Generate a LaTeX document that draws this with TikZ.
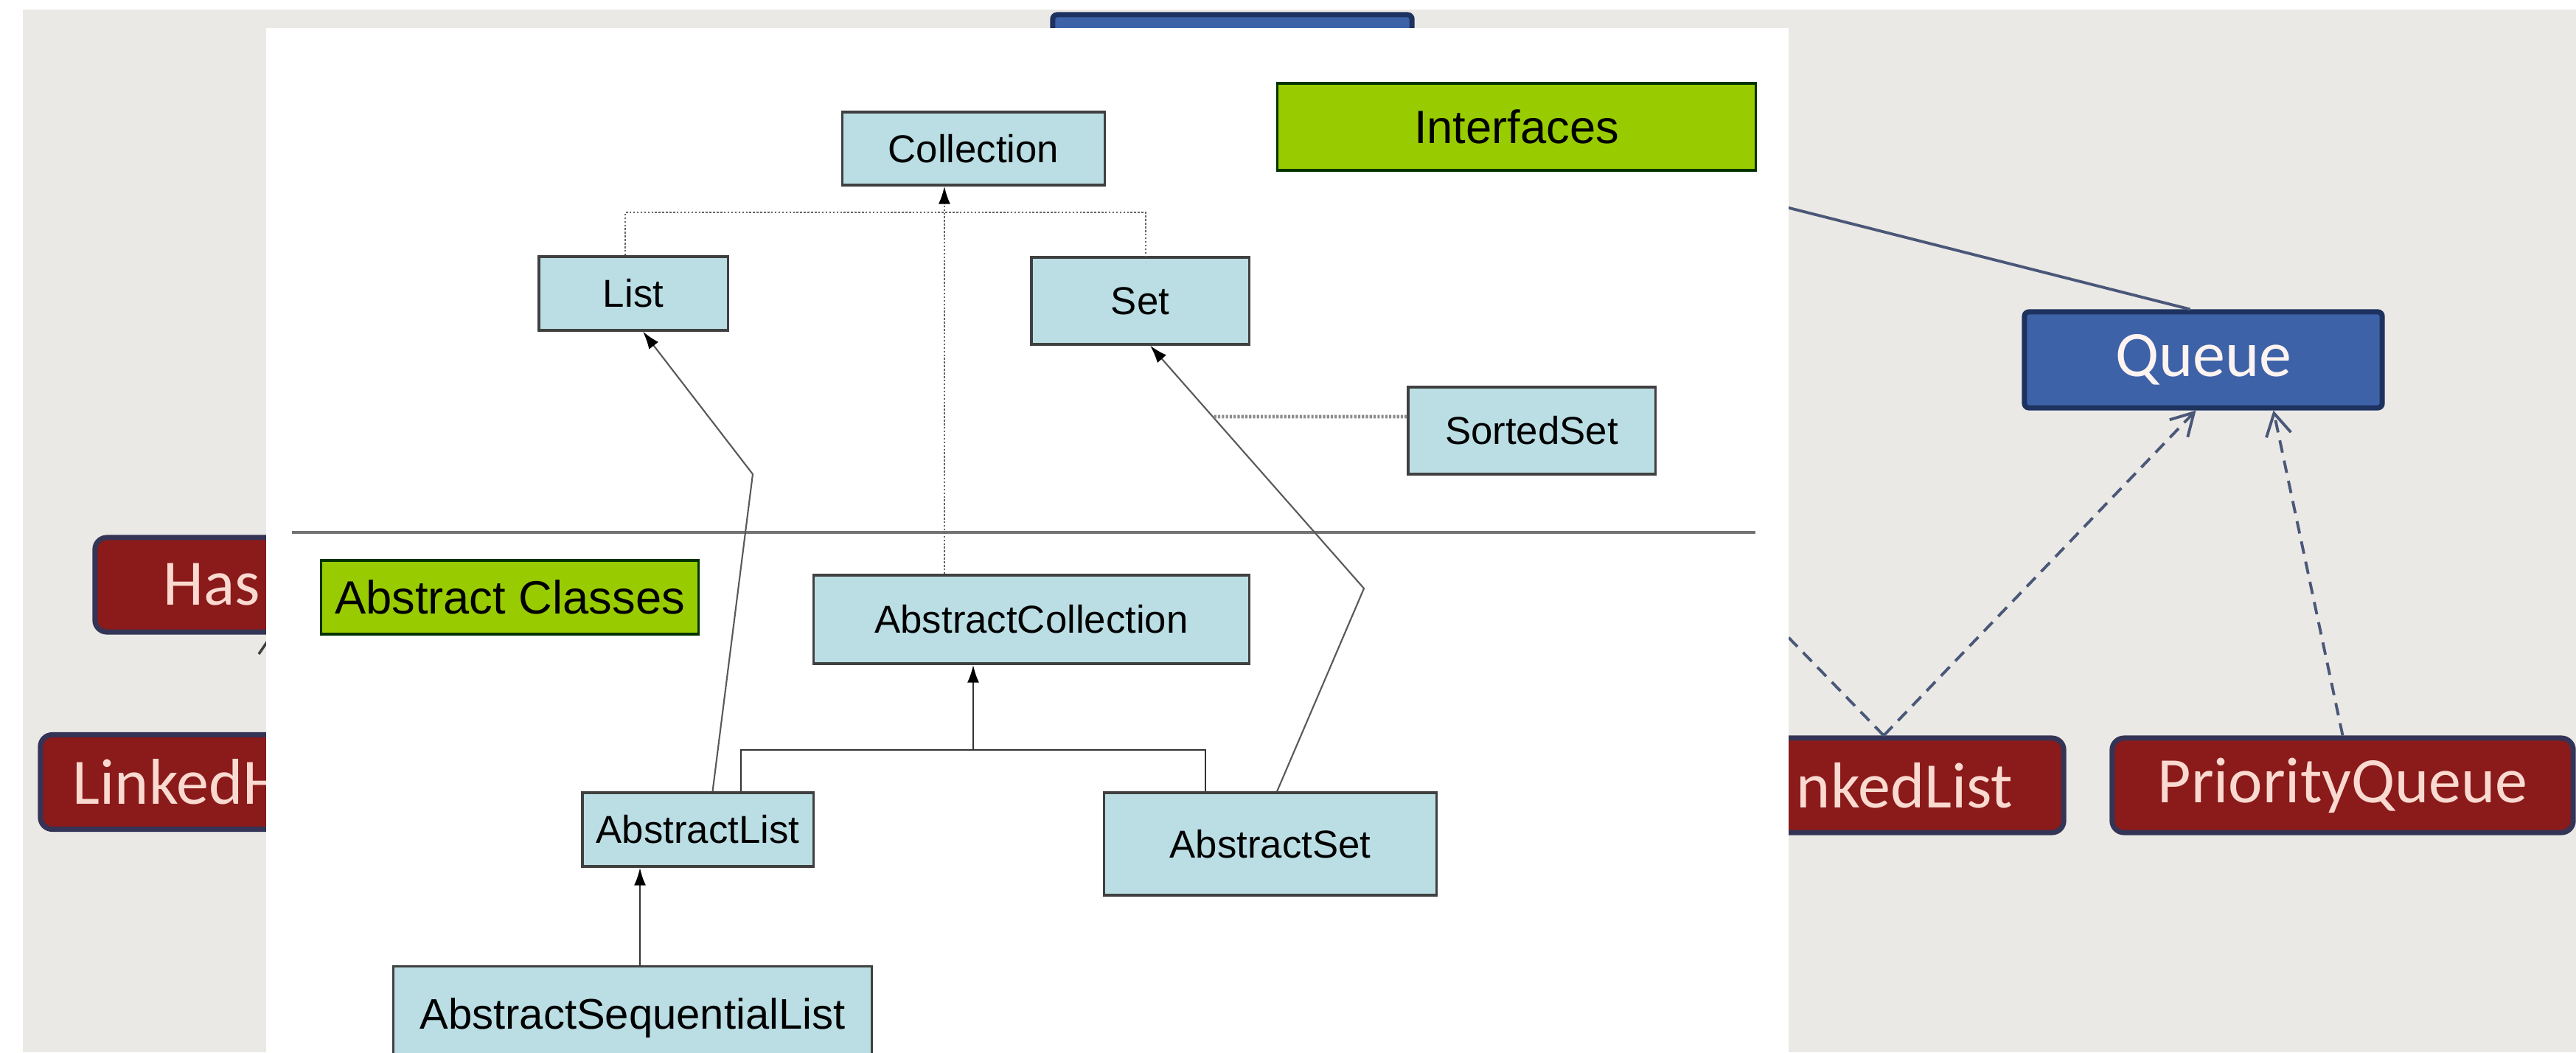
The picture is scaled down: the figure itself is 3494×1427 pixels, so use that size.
\documentclass[tikz,border=0pt]{standalone}
\usepackage{fontspec}
\setmainfont{Liberation Sans}
\newfontfamily\calibfont{Carlito}
\usepackage{xcolor}
\usepackage{tikz}
\usetikzlibrary{arrows.meta,positioning}

\definecolor{slidegray}{RGB}{235,233,230}
\definecolor{classblue}{RGB}{186,222,228}
\definecolor{labelgreen}{RGB}{153,204,0}
\definecolor{implred}{RGB}{139,26,26}
\definecolor{implrim}{RGB}{52,52,86}
\definecolor{ifaceblue}{RGB}{62,98,168}
\definecolor{ifacerim}{RGB}{30,50,96}
\definecolor{linkslate}{RGB}{74,88,120}
\definecolor{pinktext}{RGB}{250,218,208}

\begin{document}
\begin{tikzpicture}[x=0.01cm,y=-0.01cm,
    classbox/.style={draw=black!75,line width=0.9pt,fill=classblue,inner sep=0pt,
        font=\fontsize{15}{18}\selectfont},
    greenlabel/.style={draw=black!80!green,line width=0.9pt,fill=labelgreen,inner sep=0pt,
        font=\fontsize{18}{21}\selectfont},
    implbox/.style={draw=implrim,line width=2pt,fill=implred,rounded corners=0.16cm,
        minimum height=1.28cm,inner ysep=0pt,text=pinktext,font=\calibfont\fontsize{25}{29}\selectfont},
    ifacebox/.style={draw=ifacerim,line width=2pt,fill=ifaceblue,rounded corners=0.06cm,
        minimum height=1.30cm,inner sep=0pt,text=pinktext!30!white,font=\calibfont\fontsize{25}{29}\selectfont},
    dotline/.style={draw=black!60,line width=0.6pt,dash pattern=on 0.7pt off 0.7pt},
    thickdot/.style={draw=black!45,line width=1.3pt,dash pattern=on 0.9pt off 0.6pt},
    thinline/.style={draw=black!65,line width=0.6pt},
    treeline/.style={draw=black!80,line width=0.8pt},
    tip/.style={-{Latex[length=0.24cm,width=0.16cm,color=black]}},
    implline/.style={draw=linkslate,line width=1.1pt,dash pattern=on 0.17cm off 0.11cm},
    barb/.style={-{Straight Barb[length=0.3cm,width=0.34cm,line width=1.1pt]}}]

    \useasboundingbox (0,0) rectangle (3494,1427);
    \clip (0,0) rectangle (3494,1427);
    \fill[white] (0,0) rectangle (3494,1427);
    \fill[slidegray] (31,13) rectangle (3494,1427);

    \node[ifacebox,minimum width=4.87cm] (topblue) at (1671.5,85) {};
    \node[ifacebox,minimum width=4.85cm] (queue) at (2988.5,488) {Queue};
    \node[implbox,inner xsep=0.93cm,text width=2.94cm,align=left] (hashset) at (369,793) {Has};
    \node[implbox,inner xsep=0.44cm,text width=4.57cm,align=left] (linkedhashset) at (327.5,1060.5) {LinkedH};
    \node[implbox,inner xsep=0.69cm,text width=3.50cm,align=right] (linkedlist) at (2555,1065) {nkedList};
    \node[implbox,minimum width=6.25cm,inner xsep=0pt] (priorityqueue) at (3177.5,1065) {PriorityQueue};

    \coordinate (hstub) at (351,887);
    \coordinate (llup) at (2200,632);
    \draw[draw=black!75,line width=1pt] (hstub) -- (hashset.south);
    \draw[draw=linkslate,line width=1.1pt] ([xshift=-0.18cm]queue.north) -- (topblue.south east);
    \draw[implline] (linkedlist.north) -- (llup);
    \draw[implline,barb] (linkedlist.north) -- ([xshift=-0.1cm]queue.south);
    \draw[implline,barb] (priorityqueue.north) -- ([xshift=0.95cm]queue.south);

    \fill[white] (361,38) rectangle (2426,1427);

    \node[classbox,minimum width=3.55cm,minimum height=0.99cm] (collection) at (1320.5,201.5) {Collection};
    \node[greenlabel,minimum width=6.48cm,minimum height=1.18cm] (interfaces) at (2057,172) {Interfaces};
    \node[classbox,minimum width=2.56cm,minimum height=1.00cm] (list) at (859,398) {List};
    \node[classbox,minimum width=2.95cm,minimum height=1.18cm] (set) at (1546.5,408) {Set};
    \node[classbox,minimum width=3.35cm,minimum height=1.18cm] (sortedset) at (2077.5,584) {SortedSet};

    \draw[draw=black!55,line width=1.2pt] (396,722) -- (2381,722);

    \node[greenlabel,minimum width=5.11cm,minimum height=1.00cm] (abstractclasses) at (691.5,810) {Abstract Classes};
    \node[classbox,minimum width=5.90cm,minimum height=1.20cm] (abstractcollection) at (1399,840) {AbstractCollection};
    \node[classbox,minimum width=3.13cm,minimum height=1.00cm] (abstractlist) at (946.5,1125) {AbstractList};
    \node[classbox,minimum width=4.50cm,minimum height=1.39cm] (abstractset) at (1723,1144.5) {AbstractSet};
    \node[classbox,minimum width=6.48cm,minimum height=1.39cm,font=\fontsize{16.5}{19}\selectfont] (asl) at (858,1380) {AbstractSequentialList};

    \coordinate (listbend) at (1021,643);
    \coordinate (setbend) at (1850,798);
    \coordinate (setjoin) at (1646,565);
    \coordinate (acjoin) at (1320,1017);

    \draw[dotline] ([xshift=-0.11cm]list.north) -- ++(0,-58) -| ([xshift=0.075cm]set.north);
    \draw[dotline,tip] ([xshift=-1.18cm]abstractcollection.north) -- ([xshift=-1.18cm]abstractcollection.north |- collection.south);
    \draw[thinline,tip] ([xshift=0.2cm]abstractlist.north) -- (listbend) -- ([xshift=0.13cm]list.south);
    \draw[thinline,tip] ([xshift=0.09cm]abstractset.north) -- (setbend) -- ([xshift=0.135cm]set.south);
    \draw[thickdot] ([yshift=0.19cm]sortedset.west) -- (setjoin);
    \draw[treeline] ([xshift=0.585cm]abstractlist.north) |- (acjoin) -| ([xshift=-0.88cm]abstractset.north);
    \draw[treeline,tip] (acjoin) -- (acjoin |- abstractcollection.south);
    \draw[treeline,tip] ([xshift=0.1cm]asl.north) -- ([xshift=0.1cm]asl.north |- abstractlist.south);
\end{tikzpicture}
\end{document}
